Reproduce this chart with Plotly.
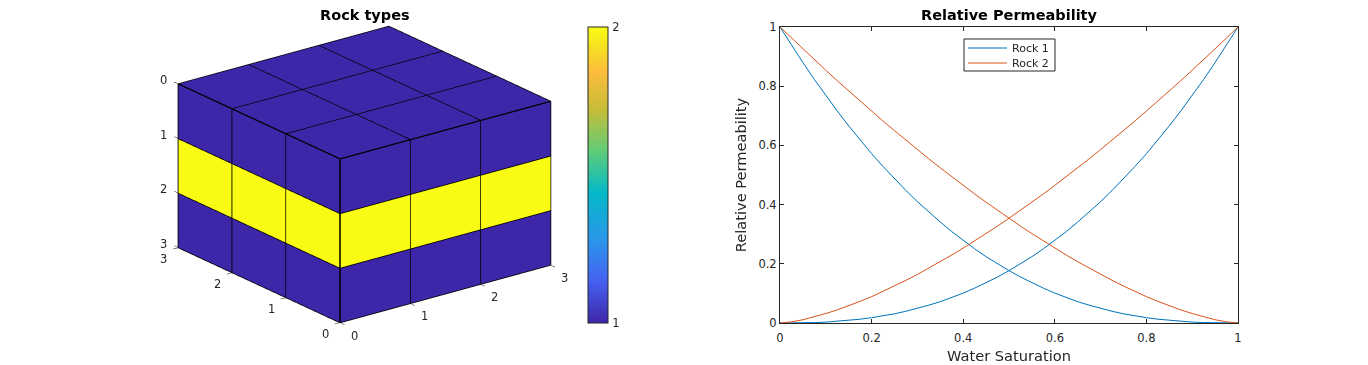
import plotly.graph_objects as go

# ---------- data ----------
layer_rock = [1, 2, 1]            # rock type of each depth layer (0-1, 1-2, 2-3)
grid_edges = [0, 1, 2, 3]
sw = [0, .025, .05, .075, .1, .125, .15, .175, .2, .225, .25, .275, .3, .325, .35, .375, .4, .425, .45, .475, .5,
      .525, .55, .575, .6, .625, .65, .675, .7, .725, .75, .775, .8, .825, .85, .875, .9, .925, .95, .975, 1]
kr1_rise = [0, .0001, .001, .0015, .003, .0055, .009, .0128, .018, .024, .031, .0397, .049, .0602, .072, .0861, .101,
            .1178, .136, .1555, .177, .1997, .224, .2507, .279, .3088, .341, .3744, .41, .4476, .487, .5288, .572,
            .6182, .666, .7162, .768, .8229, .88, .9386, 1]
kr2_rise = [0, .004, .011, .0205, .032, .0442, .058, .0732, .089, .1067, .125, .1442, .164, .1853, .207, .2296, .253,
            .2771, .302, .3274, .354, .3804, .408, .436, .465, .4941, .524, .5546, .586, .6173, .65, .6823, .716,
            .7493, .784, .8185, .854, .8896, .926, .9627, 1]
kr1_fall = kr1_rise[::-1]
kr2_fall = kr2_rise[::-1]
tick2d = [0, .2, .4, .6, .8, 1]
tick2d_text = ["0", "0.2", "0.4", "0.6", "0.8", "1"]
parula = [[0, "#3e26a8"], [.14, "#4560f0"], [.28, "#2a96ea"], [.44, "#04b9c8"], [.58, "#5fcc78"],
          [.72, "#c6bd38"], [.85, "#fdbc3c"], [.93, "#f5e022"], [1, "#f9fb15"]]
legend_names = ["Rock 1", "Rock 2"]

W, H = 1360, 357   # the page adds an 8 px body margin
INK = "#262626"
BLUE, RED = "#0072bd", "#d95319"
FONT = "DejaVu Sans"
TF = 11.5

def px(a): return (a - 8) / W
def py(b): return 1 - (b - 8) / H

fig = go.Figure()

# ---------- 3D block ----------
vx, vy, vz, fi, fj, fk, inten = [], [], [], [], [], [], []
def quad(p, val):
    n = len(vx)
    for q in p:
        vx.append(q[0]); vy.append(q[1]); vz.append(q[2])
    for a, b, c in ((0, 1, 2), (0, 2, 3)):
        fi.append(n + a); fj.append(n + b); fk.append(n + c); inten.append(val)

LIFT = 0.005   # edges sit just in front of their face so they are never hidden by it
ex, ey, ez = [], [], []
def outline(p, dx=0.0, dy=0.0, dz=0.0):
    for q in list(p) + [p[0]]:
        ex.append(q[0] + dx); ey.append(q[1] + dy); ez.append(q[2] + dz)
    ex.append(None); ey.append(None); ez.append(None)

for a in range(3):
    for b in range(3):
        top = [(a, b, 0), (a + 1, b, 0), (a + 1, b + 1, 0), (a, b + 1, 0)]
        quad(top, layer_rock[0]); outline(top, dz=-LIFT)
        for k in range(3):
            if a == 0:
                f = [(0, b, k), (0, b + 1, k), (0, b + 1, k + 1), (0, b, k + 1)]
                quad(f, layer_rock[k]); outline(f, dx=-LIFT)
            if b == 0:
                f = [(a, 0, k), (a + 1, 0, k), (a + 1, 0, k + 1), (a, 0, k + 1)]
                quad(f, layer_rock[k]); outline(f, dy=-LIFT)

fig.add_trace(go.Mesh3d(
    x=vx, y=vy, z=vz, i=fi, j=fj, k=fk, intensity=inten, intensitymode="cell",
    colorscale=parula, cmin=1, cmax=2, flatshading=True, showlegend=False, hoverinfo="skip",
    lighting=dict(ambient=1, diffuse=0, specular=0, roughness=1, fresnel=0),
    colorbar=dict(x=px(588), xanchor="left", xpad=0, y=py(175), yanchor="middle", ypad=0,
                  len=296, lenmode="pixels", thickness=20, thicknessmode="pixels",
                  tickvals=[1, 2], ticktext=["1", "2"], ticks="outside", ticklen=2, tickcolor="rgba(0,0,0,0)",
                  outlinecolor=INK, outlinewidth=1, borderwidth=0,
                  tickfont=dict(family=FONT, size=TF, color=INK)),
))
fig.add_trace(go.Scatter3d(x=ex, y=ey, z=ez, mode="lines", line=dict(color="#000000", width=1.6),
                           showlegend=False, hoverinfo="skip"))

tx, ty, tz = [], [], []
L = 0.08
for t in grid_edges:
    tx += [t, t, None]; ty += [0, -L, None]; tz += [3, 3, None]
    tx += [0, -L, None]; ty += [t, t, None]; tz += [3, 3, None]
    tx += [0, 0, None]; ty += [3, 3 + L, None]; tz += [t, t, None]
fig.add_trace(go.Scatter3d(x=tx, y=ty, z=tz, mode="lines", line=dict(color=INK, width=1),
                           showlegend=False, hoverinfo="skip"))

ann3d = []
for t in grid_edges:
    common = dict(showarrow=False, text=str(t), font=dict(family=FONT, size=TF, color=INK))
    ann3d.append(dict(x=t, y=0, z=3, xshift=14, yshift=-13, **common))
    ann3d.append(dict(x=0, y=t, z=3, xshift=-15, yshift=-11, **common))
    ann3d.append(dict(x=0, y=3, z=t, xshift=-15, yshift=4, **common))

K = 3.0
AS = 1.764
CZ = -0.025
hidden = dict(visible=False, range=[-.2, 3.2], autorange=False)
fig.update_layout(scene=dict(
    domain=dict(x=[px(100), px(629)], y=[py(349), py(0 + 8)]),
    xaxis=hidden, yaxis=hidden,
    zaxis=dict(visible=False, range=[3.2, -.2], autorange=False),
    aspectmode="manual", aspectratio=dict(x=AS, y=AS, z=.66 * AS),
    camera=dict(projection=dict(type="orthographic"), up=dict(x=0, y=0, z=1),
                center=dict(x=0, y=0, z=CZ), eye=dict(x=-.569 * K, y=-.741 * K, z=.356 * K + CZ)),
    annotations=ann3d, bgcolor="white"))

# ---------- 2D curves ----------
common2d = dict(mode="lines", x=sw, showlegend=False)
fig.add_trace(go.Scatter(y=kr1_rise, line=dict(color=BLUE, width=1), name=legend_names[0], **common2d))
fig.add_trace(go.Scatter(y=kr1_fall, line=dict(color=BLUE, width=1), name=legend_names[0], **common2d))
fig.add_trace(go.Scatter(y=kr2_rise, line=dict(color=RED, width=1), name=legend_names[1], **common2d))
fig.add_trace(go.Scatter(y=kr2_fall, line=dict(color=RED, width=1), name=legend_names[1], **common2d))

axis2d = dict(range=[0, 1], tickvals=tick2d, ticktext=tick2d_text, ticks="inside", ticklen=4,
              tickcolor=INK, tickwidth=1, showline=True, linecolor=INK, linewidth=1, mirror="ticks",
              showgrid=False, zeroline=False, tickfont=dict(family=FONT, size=TF, color=INK))
paper = dict(xref="paper", yref="paper")
shapes = [dict(type="rect", x0=px(964), x1=px(1055), y0=py(71), y1=py(39), fillcolor="white",
               line=dict(color=INK, width=1), **paper)]
annots = [
    dict(text="<b>Rock types</b>", x=px(365), y=py(15), xanchor="center", yanchor="middle", showarrow=False,
         font=dict(family=FONT, size=14.5, color="black"), **paper),
    dict(text="<b>Relative Permeability</b>", x=px(1009), y=py(15), xanchor="center", yanchor="middle", showarrow=False,
         font=dict(family=FONT, size=14.5, color="black"), **paper),
]
for name, col, ly in zip(legend_names, (BLUE, RED), (48, 63)):
    shapes.append(dict(type="line", x0=px(968), x1=px(1007), y0=py(ly), y1=py(ly), line=dict(color=col, width=1), **paper))
    annots.append(dict(text=name, x=px(1010), y=py(ly), xanchor="left", yanchor="middle", showarrow=False,
                       font=dict(family=FONT, size=11, color=INK), **paper))

x_axis = dict(axis2d, ticklabelstandoff=4)
fig.update_layout(
    xaxis=dict(domain=[px(780), px(1238)], anchor="y",
               title=dict(text="Water Saturation", standoff=6, font=dict(family=FONT, size=14.6, color=INK)), **x_axis),
    yaxis=dict(domain=[py(323), py(27)], anchor="x",
               title=dict(text="Relative Permeability", standoff=8, font=dict(family=FONT, size=14.6, color=INK)), **axis2d),
    shapes=shapes, annotations=annots,
    width=W, height=H, margin=dict(l=0, r=0, t=0, b=0, autoexpand=False),
    paper_bgcolor="white", plot_bgcolor="white", showlegend=False,
)
fig.write_html("out.html")
